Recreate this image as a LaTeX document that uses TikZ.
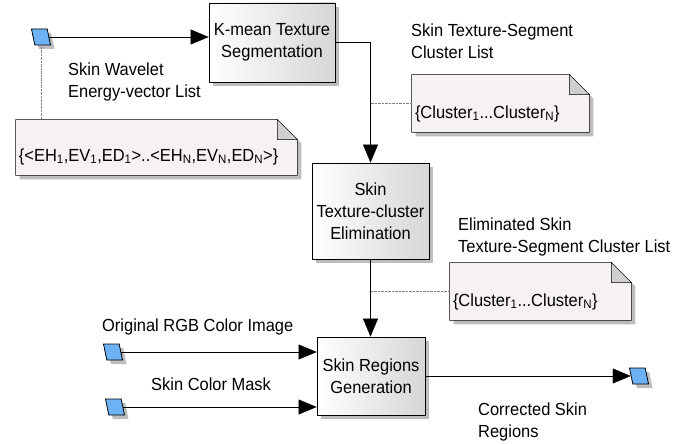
\documentclass[tikz,border=0pt]{standalone}
\usepackage{fontspec}
\setmainfont{Liberation Sans}[FakeStretch=0.94]
\usepackage{tikz}
\usetikzlibrary{arrows.meta,positioning,shapes.geometric,shadows,backgrounds}
\definecolor{DFazul}{HTML}{6CB2F5}
\definecolor{DFnota}{HTML}{F5F1F5}
\definecolor{DFsombra}{HTML}{BDBDBD}
\definecolor{DFpliegue}{HTML}{CFCFCF}

\newcommand{\hojanota}[1]{%
  \begin{pgfonlayer}{background}
    \fill[DFsombra] ([shift={(4pt,-4pt)}]#1.south west) -- ([shift={(4pt,-4pt)}]#1.north west) -- ([shift={(-16pt,-4pt)}]#1.north east) -- ([shift={(4pt,-24pt)}]#1.north east) -- ([shift={(4pt,-4pt)}]#1.south east) -- cycle;
    \draw[fill=DFnota] (#1.south west) -- (#1.north west) -- ([xshift=-20pt]#1.north east) -- ([yshift=-20pt]#1.north east) -- (#1.south east) -- cycle;
    \draw[fill=DFpliegue] ([xshift=-20pt]#1.north east) -- ([xshift=-20pt,yshift=-20pt]#1.north east) -- ([yshift=-20pt]#1.north east) -- cycle;
  \end{pgfonlayer}}

\begin{document}
\begin{tikzpicture}[x=1pt, y=1pt, line width=0.8pt,
      font=\fontsize{17.5}{22}\selectfont,
      proceso/.style={rectangle, draw, left color=white, right color=black!16, align=center, inner sep=0pt,
                      drop shadow={shadow xshift=4pt, shadow yshift=-4pt, fill=DFsombra, opacity=1}},
      dato/.style={trapezium, trapezium left angle=105, trapezium right angle=75, trapezium stretches,
                   minimum width=19pt, minimum height=16pt, inner sep=0.5pt, draw, fill=DFazul,
                   drop shadow={shadow xshift=4pt, shadow yshift=-4pt, fill=DFsombra, opacity=1}},
      nota/.style={align=left, inner xsep=3pt, inner ysep=0pt, text height=43pt, text depth=14pt},
      etiqueta/.style={align=left, inner sep=0pt, anchor=north west},
      flecha/.style={-{Triangle[length=18pt, width=15pt]}},
      punteado/.style={densely dotted, gray}
    ]
    \useasboundingbox (0,0) rectangle (686,-444);

    % procesos
    \node[proceso, minimum width=126pt, minimum height=79pt] (kmean) at (272,-42.5) {K-mean Texture\\Segmentation};
    \node[proceso, minimum width=117pt, minimum height=96pt] (elimina) at (370.5,-211) {Skin\\Texture-cluster\\Elimination};
    \node[proceso, minimum width=108pt, minimum height=78pt] (regiones) at (371,-376) {Skin Regions\\Generation};

    % datos
    \node[dato] (energia) at (41,-37) {};
    \node[dato] (rgb) at (113,-352) {};
    \node[dato] (mascara) at (115,-407) {};
    \node[dato] (salida) at (639,-376) {};

    % notas
    \node[nota, text width=275pt, text height=41pt] (nota1) at (156.5,-147.5) {\{<EH\textsubscript{1},EV\textsubscript{1},ED\textsubscript{1}>..<EH\textsubscript{N},EV\textsubscript{N},ED\textsubscript{N}>\}};
    \node[nota, text width=171pt] (nota2) at (500.5,-103.5) {\{Cluster\textsubscript{1}...Cluster\textsubscript{N}\}};
    \node[nota, text width=175pt] (nota3) at (540.5,-291.5) {\{Cluster\textsubscript{1}...Cluster\textsubscript{N}\}};
    \hojanota{nota1}
    \hojanota{nota2}
    \hojanota{nota3}

    % etiquetas
    \node[etiqueta] (lblenergia) at (68,-62.2) {Skin Wavelet\\Energy-vector List};
    \node[etiqueta] (lblsegmentos) at (411,-23.2) {Skin Texture-Segment\\Cluster List};
    \node[etiqueta] (lbleliminados) at (458,-217.2) {Eliminated Skin\\Texture-Segment Cluster List};
    \node[etiqueta] (lblrgb) at (102,-318.2) {Original RGB Color Image};
    \node[etiqueta] (lblmascara) at (151,-377.2) {Skin Color Mask};
    \node[etiqueta] (lblcorregida) at (478,-402.2) {Corrected Skin\\Regions};

    % flujos
    \draw[flecha] (energia.east) -- (energia.east -| kmean.west);
    \draw[flecha] (kmean.east) -| (elimina.north);
    \draw[flecha] (elimina.south) -- (elimina.south |- regiones.north);
    \draw[flecha] (rgb.east) -- (rgb.east -| regiones.west);
    \draw[flecha] (mascara.east) -- (mascara.east -| regiones.west);
    \draw[flecha] (regiones.east) -- (salida.west);

    % anotaciones
    \draw[punteado] (energia.south) -- (energia.south |- nota1.north);
    \draw[punteado] (nota2.west) -- (nota2.west -| elimina.north);
    \draw[punteado] (nota3.west) -- (nota3.west -| regiones.north);
  \end{tikzpicture}
\end{document}
